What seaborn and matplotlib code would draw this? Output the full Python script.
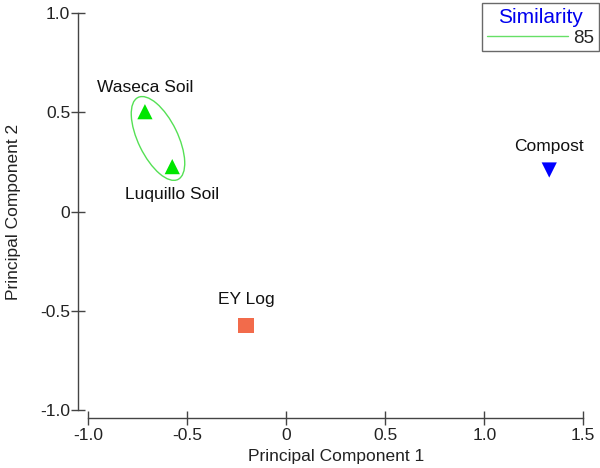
import matplotlib
matplotlib.use("Agg")
import matplotlib.pyplot as plt
import seaborn as sns
import pandas as pd
from matplotlib.patches import Ellipse
from matplotlib.lines import Line2D

# Data
samples = ["Waseca Soil", "Luquillo Soil", "EY Log", "Compost"]
pc1 = [-0.714, -0.576, -0.204, 1.328]
pc2 = [0.504, 0.227, -0.575, 0.210]
group = ["Soil", "Soil", "Log", "Compost"]
similarity_level = ["85"]

df = pd.DataFrame({"sample": samples, "PC1": pc1, "PC2": pc2, "group": group})

sns.set_theme(style="white")
plt.rcParams["font.family"] = ["Liberation Sans", "DejaVu Sans"]

fig = plt.figure(figsize=(6, 4.68), dpi=100)
W, H = 600, 468
left, right, top, bottom = 88.3, 583.3, 13.3, 410.0
ax = fig.add_axes([left / W, 1 - bottom / H, (right - left) / W, (bottom - top) / H])

palette = {"Soil": "#00e600", "Log": "#f26b4b", "Compost": "#0000ff"}
markers = {"Soil": "^", "Log": "s", "Compost": "v"}
sns.scatterplot(data=df, x="PC1", y="PC2", hue="group", style="group",
                palette=palette, markers=markers, s=120, linewidth=0,
                legend=False, ax=ax, zorder=3)

# Similarity ellipse around soils
ell = Ellipse(xy=(-0.648, 0.369), width=0.46, height=0.20, angle=-64,
              fill=False, edgecolor="#55e055", lw=1.0)
ax.add_patch(ell)

# Labels
offsets = {"Waseca Soil": (0.0, 0.12), "Luquillo Soil": (0.0, -0.14),
           "EY Log": (0.0, 0.13), "Compost": (0.0, 0.12)}
for s, x, y in zip(samples, pc1, pc2):
    dx, dy = offsets[s]
    ax.text(x + dx, y + dy, s, ha="center", va="center", fontsize=12.5, color="#111111")

ax.set_xlim(-1.0, 1.5)
ax.set_ylim(-1.0, 1.0)
ax.set_xticks([-1.0, -0.5, 0, 0.5, 1.0, 1.5])
ax.set_xticklabels(["-1.0", "-0.5", "0", "0.5", "1.0", "1.5"])
ax.set_yticks([-1.0, -0.5, 0, 0.5, 1.0])
ax.set_yticklabels(["-1.0", "-0.5", "0", "0.5", "1.0"])
ax.set_xlabel("Principal Component 1", fontsize=12.5, color="#222222", labelpad=4)
ax.set_ylabel("Principal Component 2", fontsize=12.5, color="#222222", labelpad=14)

for sp in ["top", "right"]:
    ax.spines[sp].set_visible(False)
ax.spines["left"].set_position(("outward", 7.2))
ax.spines["bottom"].set_position(("outward", 5.5))
for sp in ["left", "bottom"]:
    ax.spines[sp].set_color("#444444")
    ax.spines[sp].set_linewidth(1.0)
ax.tick_params(axis="both", which="major", bottom=True, left=True,
               direction="inout", length=9.5, width=1.0,
               color="#444444", labelsize=12.5, labelcolor="#222222", pad=1)
ax.tick_params(axis="x", pad=3)
ax.patch.set_alpha(0)

handles = [Line2D([0], [0], color="#66e066", lw=1.0)]
leg = fig.legend(handles, similarity_level, title="Similarity", loc="upper right",
                 bbox_to_anchor=(599 / W, 1 - 3 / H), frameon=True, fancybox=False,
                 fontsize=13.5, title_fontsize=15, handlelength=4.3, handletextpad=0.3,
                 borderpad=0.25, labelspacing=0.15, borderaxespad=0)
leg.get_title().set_color("#0000ee")
leg.get_frame().set_edgecolor("#444444")
leg.get_frame().set_linewidth(1.0)

fig.savefig("out.png", dpi=100)
